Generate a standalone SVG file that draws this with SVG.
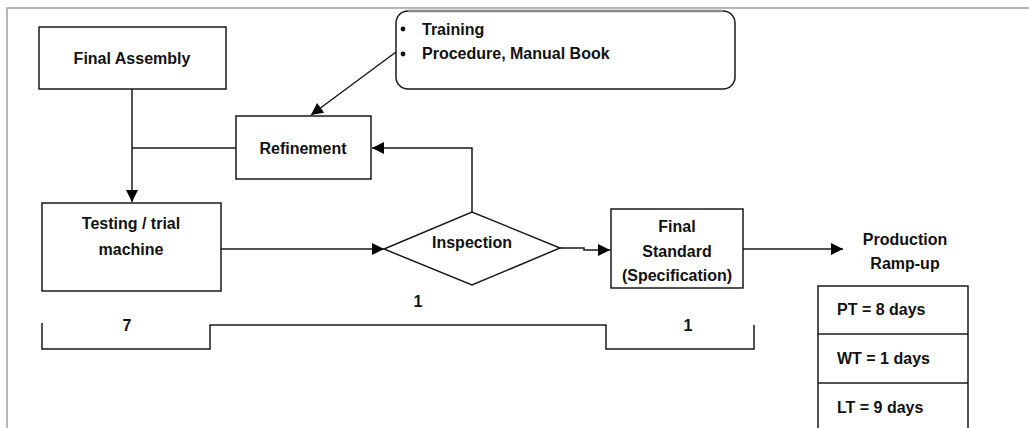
<svg xmlns="http://www.w3.org/2000/svg" width="1029" height="428" viewBox="0 0 1029 428">
<defs>
<marker id="ah" viewBox="0 0 10 10" refX="10" refY="5" markerWidth="13" markerHeight="12" markerUnits="userSpaceOnUse" orient="auto">
<path d="M0,0 L10,5 L0,10 Z" fill="#000"/>
</marker>
<style>
.box{fill:#fff;stroke:#1a1a1a;stroke-width:1.5}
.ln{fill:none;stroke:#1a1a1a;stroke-width:1.5}
.t{font-family:"Liberation Sans",Arial,sans-serif;font-weight:bold;font-size:16px;fill:#111}
.c{text-anchor:middle}
</style>
</defs>
<rect width="1029" height="428" fill="#fff"/>
<path d="M7,428 V8 H1029" fill="none" stroke="#a0a0a0" stroke-width="1.5"/>
<g id="connectors">
<path class="ln" d="M132,89 V202" marker-end="url(#ah)"/>
<path class="ln" d="M132,148 H236"/>
<path class="ln" d="M472,212 V148 H372" marker-end="url(#ah)"/>
<path class="ln" d="M396,52 L311,115" marker-end="url(#ah)"/>
<path class="ln" d="M221,249 H384" marker-end="url(#ah)" stroke="#444"/>
<path class="ln" d="M560,248 H584 V250 H610" marker-end="url(#ah)"/>
<path class="ln" d="M743,249 H843" marker-end="url(#ah)"/>
<path class="ln" d="M42,323 V349 H210 V325 H606 V349 H754 V325"/>
</g>
<g id="final-assembly">
<rect class="box" x="39" y="27" width="187" height="62"/>
<text class="t c" x="132" y="64">Final Assembly</text>
</g>
<g id="callout">
<rect class="box" x="396" y="11" width="339" height="78" rx="12"/>
<line x1="408" y1="11" x2="723" y2="11" stroke="#888" stroke-width="2.5"/>
<circle cx="403" cy="29" r="2.4" fill="#111"/>
<text class="t" x="422" y="35">Training</text>
<circle cx="403" cy="54" r="2.4" fill="#111"/>
<text class="t" x="422" y="59">Procedure, Manual Book</text>
</g>
<g id="refinement">
<rect class="box" x="236" y="116" width="135" height="63"/>
<text class="t c" x="303" y="154">Refinement</text>
</g>
<g id="testing">
<rect class="box" x="42" y="203" width="179" height="88"/>
<text class="t c" x="131" y="229">Testing / trial</text>
<text class="t c" x="131" y="255">machine</text>
</g>
<g id="inspection">
<polygon class="box" points="384,249 472,212 560,248 472,285"/>
<text class="t c" x="472" y="248">Inspection</text>
</g>
<g id="final-standard">
<rect class="box" x="611" y="209" width="132" height="79"/>
<text class="t c" x="677" y="232">Final</text>
<text class="t c" x="677" y="257">Standard</text>
<text class="t c" x="677" y="281">(Specification)</text>
</g>
<g id="production">
<text class="t c" x="905" y="245">Production</text>
<text class="t c" x="905" y="269">Ramp-up</text>
</g>
<g id="metrics">
<path class="box" d="M818,430 V286 H968 V430"/>
<line class="ln" x1="818" y1="334" x2="968" y2="334"/>
<line class="ln" x1="818" y1="383" x2="968" y2="383"/>
<text class="t" x="837" y="315">PT = 8 days</text>
<text class="t" x="837" y="364">WT = 1 days</text>
<text class="t" x="837" y="413">LT = 9 days</text>
</g>
<g id="labels">
<text class="t c" x="127" y="331">7</text>
<text class="t c" x="418" y="307">1</text>
<text class="t c" x="688" y="331">1</text>
</g>
</svg>
